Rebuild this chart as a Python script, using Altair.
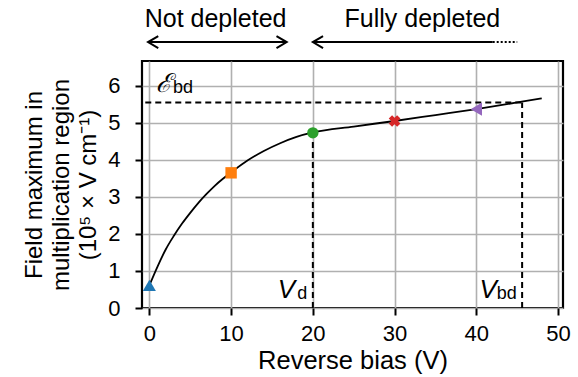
import altair as alt
import pandas as pd

# Curve: field maximum vs reverse bias
bias = [0, 1, 2, 3, 4, 5, 6, 7, 8, 9, 10, 12, 14, 16, 18, 20, 25, 30, 35, 40, 45, 48]
field = [0.61, 1.12, 1.58, 1.95, 2.28, 2.57, 2.84, 3.08, 3.30, 3.49, 3.66,
         3.98, 4.24, 4.45, 4.62, 4.74, 4.90, 5.05, 5.21, 5.37, 5.55, 5.66]

# Highlighted markers
marker_bias = [0, 10, 20, 30, 40]
marker_field = [0.61, 3.65, 4.73, 5.05, 5.37]
marker_shapes = ["triangle-up", "square", "circle", "cross", "triangle-left"]
marker_angles = [0, 0, 0, 45, 0]
marker_sizes = [170, 130, 130, 140, 170]
marker_colors = ["#1f77b4", "#ff7f0e", "#2ca02c", "#d62728", "#9467bd"]

# Reference levels
E_bd = 5.55
V_d = 20
V_d_field = 4.73
V_bd = 45.6
x_start = -0.5

# Arrows above the plot (data units)
arrow_y = 7.18
not_dep = [-0.16, 16.8]
full_dep = [20.0, 42.0]
full_dep_dots = [42.0, 45.0]
label_y = 7.58

x_ticks = [0, 10, 20, 30, 40, 50]
y_ticks = [0, 1, 2, 3, 4, 5, 6]

FONT = "Liberation Sans"

xs = alt.Scale(domain=[-0.9, 50.6], nice=False, zero=False)
ys = alt.Scale(domain=[0, 6.67], nice=False, zero=False)

curve_df = pd.DataFrame({"bias": bias, "field": field})
mk_df = pd.DataFrame({"bias": marker_bias, "field": marker_field,
                      "shape": marker_shapes, "color": marker_colors,
                      "angle": marker_angles, "size": marker_sizes})

base_x = alt.X("bias:Q", scale=xs,
               axis=alt.Axis(values=x_ticks, title="Reverse bias (V)", grid=True))
base_y = alt.Y("field:Q", scale=ys,
               axis=alt.Axis(values=y_ticks,
                             title=["Field maximum in", "multiplication region",
                                    "(10⁵ × V cm⁻¹)"], grid=True))

curve = alt.Chart(curve_df).mark_line(color="black", strokeWidth=1.8,
                                      interpolate="monotone").encode(x=base_x, y=base_y)

markers = alt.Chart(mk_df).mark_point(filled=True, opacity=1).encode(
    x="bias:Q", y="field:Q",
    shape=alt.Shape("shape:N", scale=None),
    color=alt.Color("color:N", scale=None),
    angle=alt.Angle("angle:Q", scale=None),
    size=alt.Size("size:Q", scale=None),
)

dash_df = pd.DataFrame({
    "x": [x_start, V_bd, V_d],
    "x2": [V_bd, V_bd, V_d],
    "y": [E_bd, 0, 0],
    "y2": [E_bd, E_bd, V_d_field],
})
dashes = alt.Chart(dash_df).mark_rule(color="black", strokeWidth=2,
                                      strokeDash=[6, 4]).encode(
    x="x:Q", x2="x2:Q", y="y:Q", y2="y2:Q")

shaft_df = pd.DataFrame({"x": [not_dep[0], full_dep[0]],
                         "x2": [not_dep[1], full_dep[1]],
                         "y": [arrow_y, arrow_y]})
shafts = alt.Chart(shaft_df).mark_rule(color="black", strokeWidth=2).encode(
    x="x:Q", x2="x2:Q", y="y:Q")
dots_df = pd.DataFrame({"x": [full_dep_dots[0]], "x2": [full_dep_dots[1]], "y": [arrow_y]})
dots = alt.Chart(dots_df).mark_rule(color="black", strokeWidth=2,
                                    strokeDash=[2, 2]).encode(x="x:Q", x2="x2:Q", y="y:Q")

left_heads = alt.Chart(pd.DataFrame({"x": [not_dep[0], full_dep[0]],
                                     "y": [arrow_y, arrow_y]})).mark_point(
    shape="M1.7,-1L0,0L1.7,1", size=144, filled=False, color="black",
    strokeWidth=2, opacity=1).encode(x="x:Q", y="y:Q")
right_heads = alt.Chart(pd.DataFrame({"x": [not_dep[1]], "y": [arrow_y]})).mark_point(
    shape="M-1.7,-1L0,0L-1.7,1", size=144, filled=False, color="black",
    strokeWidth=2, opacity=1).encode(x="x:Q", y="y:Q")

top_text = alt.Chart(pd.DataFrame({"x": [8.1, 33.4], "y": [label_y, label_y],
                                   "t": ["Not depleted", "Fully depleted"]})).mark_text(
    font=FONT, fontSize=25, color="black", baseline="alphabetic", align="center").encode(
    x="x:Q", y="y:Q", text="t:N")

big_sym = alt.Chart(pd.DataFrame({"x": [0.8, 15.7, 40.4], "y": [5.83, 0.28, 0.28],
                                  "t": ["ℰ", "V", "V"]})).mark_text(
    font=FONT, fontSize=26, fontStyle="italic", color="black",
    baseline="alphabetic", align="left").encode(x="x:Q", y="y:Q", text="t:N")
subs = alt.Chart(pd.DataFrame({"x": [2.9, 18.1, 42.5], "y": [5.80, 0.25, 0.25],
                               "t": ["bd", "d", "bd"]})).mark_text(
    font=FONT, fontSize=18, color="black", baseline="alphabetic", align="left").encode(
    x="x:Q", y="y:Q", text="t:N")

chart = alt.layer(curve, dashes, markers, shafts, dots, left_heads, right_heads,
                  top_text, big_sym, subs).properties(
    width=421, height=247,
    autosize=alt.AutoSizeParams(type="none"),
    padding={"left": 142, "top": 61, "right": 15, "bottom": 69},
).configure_view(stroke="black", strokeWidth=2.2).configure_axis(
    domain=False, tickColor="black", tickWidth=2, tickSize=7,
    gridColor="#b0b0b0", gridWidth=1.6,
    labelFont=FONT, labelFontSize=22, labelColor="black",
    titleFont=FONT, titleFontSize=24, titleColor="black", titleFontWeight="normal",
).configure_axisY(titlePadding=7, titleLineHeight=27, labelPadding=15
).configure_axisX(titlePadding=4, labelPadding=8, titleFontSize=25.5)

chart.save("out.html", embed_options={"renderer": "svg", "actions": False})
